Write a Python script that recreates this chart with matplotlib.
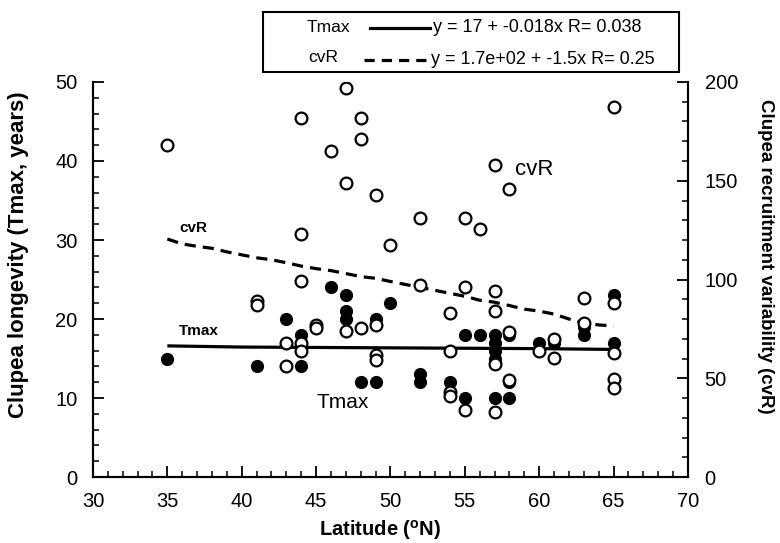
import matplotlib
matplotlib.use("Agg")
import matplotlib.pyplot as plt
from matplotlib.lines import Line2D
from matplotlib.patches import Rectangle
from matplotlib.ticker import MultipleLocator

plt.rcParams['font.family'] = ['Liberation Sans', 'DejaVu Sans']

# Tmax (filled circles, left axis)
tmax_lat = [35, 41, 43, 43, 44, 44, 46, 47, 47, 47, 48, 49, 49, 50, 52, 52, 54, 55, 55,
            56, 57, 57, 57, 57, 57, 58, 58, 58, 60, 61, 63, 63, 65, 65]
tmax_val = [15, 14, 20, 14, 18, 14, 24, 23, 21, 20, 12, 12, 20, 22, 13, 12, 12, 18, 10,
            18, 18, 17, 16, 15, 10, 18, 12, 10, 17, 17, 19, 18, 23, 17]

# cvR (open circles, right axis)
cvr_lat = [35, 41, 41, 43, 43, 44, 44, 44, 44, 44, 45, 45, 46, 47, 47, 47, 48, 48, 48,
           49, 49, 49, 49, 50, 52, 52, 54, 54, 54, 54, 55, 55, 55, 56, 57, 57, 57, 57, 57,
           58, 58, 58, 60, 61, 61, 63, 63, 65, 65, 65, 65, 65]
cvr_val = [168, 89, 87, 68, 56, 182, 123, 99, 68, 64, 77, 75.5, 165, 197, 149, 74, 182, 171, 75.5,
           143, 77, 62, 59, 117.5, 131, 97, 83, 64, 43, 41, 131, 96, 34, 125.5, 158, 94, 84, 57, 33,
           146, 73.5, 49, 64, 70, 60.5, 90.5, 78, 187.5, 88, 63, 49.5, 45]

# Trend lines
tline_lat = [35, 40, 45, 50, 55, 60, 65]
tline_val = [16.6, 16.45, 16.4, 16.35, 16.3, 16.25, 16.15]
cline_lat = list(range(35, 66))
cline_val = [120.5, 118, 116.8, 115.8, 114, 112.5, 111, 110, 108.5, 106.8, 105.5, 104.5, 103,
             101.5, 100.6, 99, 97.5, 96, 94.5, 93, 91.5, 89.5, 88.5, 86.8, 85, 84, 82.5, 80,
             78, 77, 76.5]

fig = plt.figure(figsize=(7.8, 5.43), dpi=100)
ax = fig.add_axes([0.1192, 0.1215, 0.7628, 0.7275])
ax2 = ax.twinx()

ax.set_xlim(30, 70)
ax.set_ylim(0, 50)
ax2.set_ylim(0, 200)

ax.plot(tline_lat, tline_val, color='black', lw=2.3, solid_capstyle='butt', zorder=2)
ax2.plot(cline_lat, cline_val, color='black', lw=2.3, dashes=(3.5, 2.2), zorder=2)
ax.scatter(tmax_lat, tmax_val, s=72, facecolor='black', edgecolor='black', lw=1.0, zorder=3)
ax2.scatter(cvr_lat, cvr_val, s=72, facecolor='white', edgecolor='black', lw=1.6, zorder=4)

ax.set_zorder(1)
ax2.set_zorder(2)
ax.patch.set_visible(False)
ax2.patch.set_visible(False)

for a in (ax, ax2):
    a.spines['top'].set_visible(False)
    for s in ('left', 'right', 'bottom'):
        a.spines[s].set_linewidth(1.5)

ax.xaxis.set_major_locator(MultipleLocator(5))
ax.xaxis.set_minor_locator(MultipleLocator(1))
ax.yaxis.set_major_locator(MultipleLocator(10))
ax.yaxis.set_minor_locator(MultipleLocator(2))
ax2.yaxis.set_major_locator(MultipleLocator(50))
ax2.yaxis.set_minor_locator(MultipleLocator(10))

ax.tick_params(axis='both', which='major', direction='in', length=8, width=1.3, labelsize=14.5, pad=11)
ax.tick_params(axis='x', which='major', pad=11)
ax.tick_params(axis='both', which='minor', direction='in', length=4, width=1.1)
ax2.tick_params(axis='y', which='major', direction='in', length=8, width=1.3, labelsize=14.5, pad=12)
ax2.tick_params(axis='y', which='minor', direction='in', length=4, width=1.1)

ax.set_xlabel('Latitude ($\\mathregular{^{o}}$N)', fontsize=14.5, fontweight='bold',
              va='center', ha='center')
ax.xaxis.set_label_coords(0.482, -0.134)
ax.set_ylabel('Clupea longevity (Tmax, years)', fontsize=16, fontweight='bold',
              va='center', ha='center')
ax.yaxis.set_label_coords(-0.126, 0.562)
ax2.set_ylabel('Clupea recruitment variability (cvR)', fontsize=13.5, fontweight='bold',
               rotation=270, va='center', ha='center')
ax2.yaxis.set_label_coords(1.131, 0.558)

ax.text(35.78, 31.5, 'cvR', fontsize=11, fontweight='bold', va='center', ha='left', zorder=5)
ax.text(35.78, 18.5, 'Tmax', fontsize=11, fontweight='bold', va='center', ha='left', zorder=5)
ax.text(58.37, 38.9, 'cvR', fontsize=16, va='center', ha='left', zorder=5)
ax.text(45.06, 9.37, 'Tmax', fontsize=15, va='center', ha='left', zorder=5)

# Legend box (figure coordinates)
W, H = 780.0, 543.0
rect = Rectangle((263 / W, 1 - 72 / H), (679 - 263) / W, 60 / H, transform=fig.transFigure,
                 facecolor='white', edgecolor='black', lw=1.5)
fig.patches.append(rect)
fig.text(328 / W, 1 - 28 / H, 'Tmax', fontsize=12.5, ha='center', va='center')
fig.text(323 / W, 1 - 58 / H, 'cvR', fontsize=12.5, ha='center', va='center')
fig.lines.append(Line2D([370 / W, 430 / W], [1 - 28 / H, 1 - 28 / H], transform=fig.transFigure,
                        color='black', lw=2.3))
fig.lines.append(Line2D([364 / W, 428 / W], [1 - 60 / H, 1 - 60 / H], transform=fig.transFigure,
                        color='black', lw=2.3, dashes=(3.2, 2.2)))
fig.text(433 / W, 1 - 28 / H, 'y = 17 + -0.018x R= 0.038', fontsize=13, ha='left', va='center')
fig.text(431 / W, 1 - 60 / H, 'y = 1.7e+02 + -1.5x R= 0.25', fontsize=13, ha='left', va='center')

fig.savefig('out.png', dpi=100)
